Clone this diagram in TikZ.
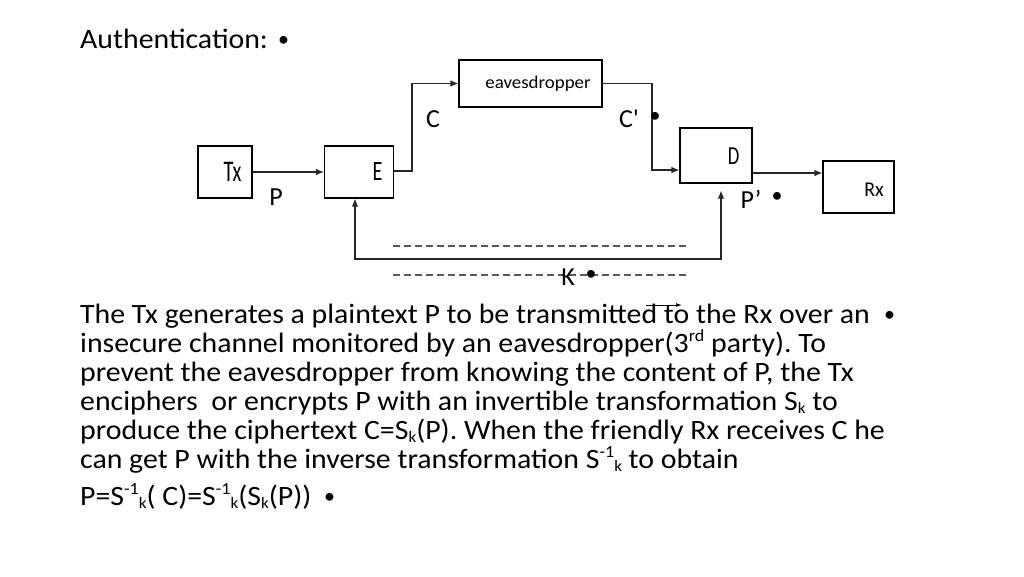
\documentclass[tikz,border=0pt]{standalone}
\usepackage{fontspec}
\setmainfont{Carlito}
\newfontfamily\bodyfont{Carlito}[FakeStretch=1.065]
\newfontfamily\rawfont{Carlito}[Ligatures=TeXOff]
\newcommand\mysup[1]{\raisebox{0.38em}{\fontsize{17}{17}\selectfont #1}}
\newcommand\mysub[1]{\raisebox{-0.12em}{\fontsize{16}{16}\selectfont #1}}
\usetikzlibrary{arrows.meta}
\frenchspacing
\begin{document}
\begin{tikzpicture}[x=1pt,y=-1pt,
  blk/.style={draw=black, line width=1.1pt, inner sep=0pt, fill=white},
  lbl/.style={inner sep=0pt, font=\fontsize{26}{29}\selectfont},
  boxtxt/.style={inner sep=0pt},
  conn/.style={line width=1.2pt, draw=black!85},
  arr/.style={conn, -{Latex[length=8pt,width=6.5pt]}},
  dsh/.style={line width=2pt, draw=black!65, dash pattern=on 7pt off 4pt},
  body/.style={inner sep=0pt, anchor=base west, font=\bodyfont\fontsize{28}{29}\selectfont\frenchspacing},
  bul/.style={inner sep=0pt, anchor=base west, font=\fontsize{22}{22}\selectfont}]
\useasboundingbox (0,0) rectangle (1024,576);
% title
\node[body] (title) at (80,48) {Authentication:};
\node[bul] (tb) at (278,46) {•};
% boxes
\node[blk, minimum width=54pt, minimum height=52pt] (tx) at (225,172) {};
\node[blk, minimum width=69pt, minimum height=52pt] (e) at (359,172) {};
\node[blk, minimum width=143pt, minimum height=47pt] (eav) at (530.5,83.5) {};
\node[blk, minimum width=72pt, minimum height=55pt] (d) at (716,155.5) {};
\node[blk, minimum width=71pt, minimum height=52pt] (rx) at (858.5,187) {};
% box texts
\node[boxtxt, font=\fontsize{30}{30}\selectfont] (txt) at (232.5,172) {\scalebox{0.68}[1]{Tx}};
\node[boxtxt, font=\fontsize{28}{28}\selectfont] (et) at (377.5,172) {\scalebox{0.72}[1]{E}};
\node[boxtxt, font=\fontsize{26}{26}\selectfont] (dt) at (733.5,156.5) {\scalebox{0.72}[1]{D}};
\node[boxtxt, font=\fontsize{21}{21}\selectfont] (rxt) at (874,190) {\scalebox{0.95}[1]{Rx}};
\node[boxtxt, font=\fontsize{18}{18}\selectfont] (eavt) at (538,84) {\scalebox{1.05}[1]{eavesdropper}};
% connectors
\coordinate (eup) at (412,171);
\coordinate (cd) at (652,170);
\coordinate (kl) at (355,259);
\coordinate (kr) at (721,259);
\draw[arr] (tx.east) -- (e.west);
\draw[arr] (e.east |- eup) -- (eup) |- (eav.west);
\draw[arr] (eav.east) -| (cd) -- (d.west |- cd);
\draw[arr] (d.east |- 0,173) -- (rx.west |- 0,173);
\draw[conn, {Latex[length=8pt,width=6.5pt]}-{Latex[length=8pt,width=6.5pt]}, shorten >=7pt]
  (kl |- e.south) -- (kl) -- (kr) -- (kr |- d.south);
% dashed key lines
\coordinate (da1) at (393,246);
\coordinate (da2) at (688,246);
\coordinate (db1) at (393,275);
\coordinate (db2) at (688,275);
\draw[dsh] (da1) -- (da2);
\draw[dsh] (db1) -- (db2);
% labels
\node[lbl] (pl) at (276,197) {P};
\node[lbl] (cl) at (433,119) {C};
\node[lbl] (cpl) at (629,119) {\rawfont C'};
\node[lbl, font=\fontsize{22}{22}\selectfont] (cpb) at (655,117) {•};
\node[lbl] (ppl) at (751,199) {P’};
\node[lbl, font=\fontsize{22}{22}\selectfont] (ppb) at (777,197) {•};
\node[lbl] (kl2) at (568,277) {K};
\node[lbl, font=\fontsize{22}{22}\selectfont] (kb) at (591,275) {•};
% stray arrow
\coordinate (sa1) at (646,305);
\coordinate (sa2) at (682,305);
\draw[line width=1pt, -{Latex[length=6pt,width=4pt]}] (sa1) -- (sa2);
% body text
\node[body] (l1) at (80,323) {The Tx generates a plaintext P to be transmitted to the Rx over an};
\node[bul] (b1) at (884,321) {•};
\node[body] (l2) at (80,352) {insecure channel monitored by an eavesdropper(3\mysup{rd} party). To};
\node[body] (l3) at (80,381) {prevent the eavesdropper from knowing the content of P, the Tx};
\node[body] (l4) at (80,410) {enciphers \ or encrypts P with an invertible transformation S\mysub{k} to};
\node[body] (l5) at (80,439) {produce the ciphertext C=S\mysub{k}(P). When the friendly Rx receives C he};
\node[body] (l6) at (80,468) {can get P with the inverse transformation S\mysup{-1}\mysub{k} to obtain};
\node[body] (l7) at (80,505) {P=S\mysup{-1}\mysub{k}( C)=S\mysup{-1}\mysub{k}(S\mysub{k}(P))};
\node[bul] (b7) at (324,503) {•};
\end{tikzpicture}
\end{document}
